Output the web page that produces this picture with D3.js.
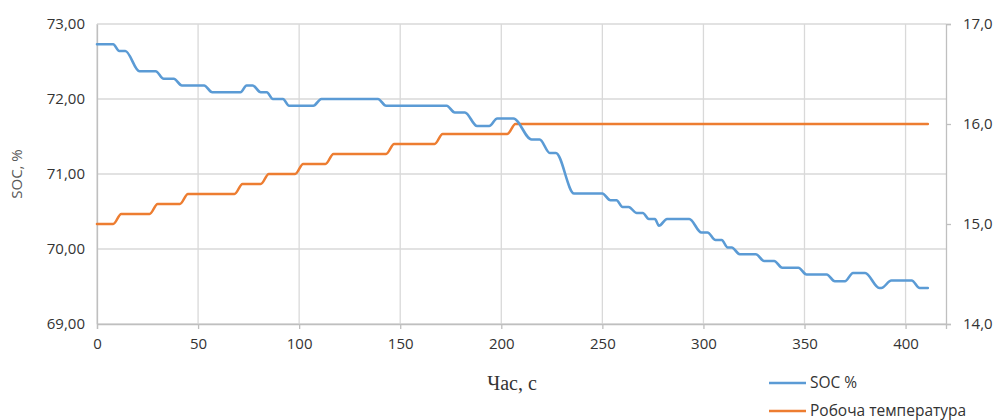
<!DOCTYPE html>
<html>
<head>
<meta charset="utf-8">
<script src="https://cdn.jsdelivr.net/npm/d3@7"></script>
<style>
  html, body { margin: 0; padding: 0; background: #fff; }
  svg { display: block; }
  text { font-family: "Open Sans", "Liberation Sans", sans-serif; }
</style>
</head>
<body>
<svg id="chart" width="1003" height="420"></svg>
<script>
// Time, s
const timeTicks = [0, 50, 100, 150, 200, 250, 300, 350, 400];
const socTicks = [69, 70, 71, 72, 73];
const tempTicks = [14, 15, 16, 17];

// SOC, % — corner points of the stepped discharge curve
const socTime = [0, 8, 11, 14, 21, 29, 33, 38, 42, 53, 57, 71, 74, 77, 81, 84, 87, 92, 95, 107,
  111, 139, 143, 173, 177, 182, 188, 194, 198, 206, 215, 219, 224, 227, 236, 250, 254, 257, 260, 263,
  267, 270, 273, 276, 278, 282, 293, 299, 302, 306, 309, 312, 314, 318, 326, 330, 335, 339, 347, 351,
  361, 365, 370, 374, 380, 387, 388, 393, 403, 407, 411];
const socValues = [72.73, 72.73, 72.64, 72.64, 72.37, 72.37, 72.27, 72.27, 72.18, 72.18, 72.09, 72.09, 72.18, 72.18, 72.09, 72.09, 72.00, 72.00, 71.91, 71.91,
  72.00, 72.00, 71.91, 71.91, 71.82, 71.82, 71.64, 71.64, 71.74, 71.74, 71.46, 71.46, 71.28, 71.28, 70.74, 70.74, 70.65, 70.65, 70.56, 70.56,
  70.48, 70.48, 70.40, 70.40, 70.31, 70.40, 70.40, 70.22, 70.22, 70.12, 70.12, 70.02, 70.02, 69.93, 69.93, 69.84, 69.84, 69.75, 69.75, 69.66,
  69.66, 69.57, 69.57, 69.68, 69.68, 69.48, 69.48, 69.58, 69.58, 69.48, 69.48];

// Working temperature — corner points of the stepped heating curve
const tempTime = [0, 8, 12, 26, 30, 41, 45, 68, 72, 81, 85, 98, 102, 113, 117, 143, 147, 167, 171, 203, 207, 411];
const tempValues = [15.0, 15.0, 15.1, 15.1, 15.2, 15.2, 15.3, 15.3, 15.4, 15.4, 15.5, 15.5, 15.6, 15.6, 15.7, 15.7, 15.8, 15.8, 15.9, 15.9, 16.0, 16.0];

const seriesNames = ["SOC %", "Робоча температура"];
const seriesColors = ["#5B9BD5", "#ED7D31"];

const svg = d3.select("#chart");
const plotLeft = 97, plotRight = 946, plotTop = 24, plotBottom = 324;

const x = d3.scaleLinear().domain([0, 420]).range([plotLeft, plotRight]);
const ySoc = d3.scaleLinear().domain([69, 73]).range([plotBottom, plotTop]);
const yTemp = d3.scaleLinear().domain([14, 17]).range([plotBottom, plotTop]);

const gridColor = "#d9d9d9";
const textColor = "#333333";

// gridlines
svg.append("g").selectAll("line").data(socTicks).join("line")
  .attr("x1", plotLeft).attr("x2", plotRight)
  .attr("y1", d => ySoc(d)).attr("y2", d => ySoc(d))
  .attr("stroke", gridColor).attr("stroke-width", 1.3);
svg.append("g").selectAll("line").data(timeTicks).join("line")
  .attr("x1", d => x(d)).attr("x2", d => x(d))
  .attr("y1", plotTop).attr("y2", plotBottom)
  .attr("stroke", gridColor).attr("stroke-width", 1.3);

// bottom axis
const xAxis = svg.append("g").attr("transform", `translate(0,${plotBottom})`)
  .call(d3.axisBottom(x).tickValues(timeTicks).tickSize(5).tickPadding(9).tickFormat(d3.format("d")));
xAxis.select(".domain").attr("stroke", "#bfbfbf").attr("stroke-width", 1.3);
xAxis.selectAll(".tick line").attr("stroke", "#bfbfbf").attr("stroke-width", 1.3);
xAxis.selectAll("text").attr("font-size", 15).attr("fill", textColor)
  .style("font-family", "'Open Sans', sans-serif");

// left axis
const fmtSoc = v => d3.format(".2f")(v).replace(".", ",");
const yAxisL = svg.append("g").attr("transform", `translate(${plotLeft},0)`)
  .call(d3.axisLeft(ySoc).tickValues(socTicks).tickSize(0).tickPadding(12).tickFormat(fmtSoc));
yAxisL.select(".domain").attr("stroke", "#bfbfbf").attr("stroke-width", 1.3);
yAxisL.selectAll("text").attr("font-size", 15).attr("fill", textColor)
  .style("font-family", "'Open Sans', sans-serif");

// right axis
const fmtTemp = v => d3.format(".1f")(v).replace(".", ",");
const yAxisR = svg.append("g").attr("transform", `translate(${plotRight},0)`)
  .call(d3.axisRight(yTemp).tickValues(tempTicks).tickSize(5).tickPadding(12).tickFormat(fmtTemp));
yAxisR.select(".domain").attr("stroke", "#bfbfbf").attr("stroke-width", 1.3);
yAxisR.selectAll(".tick line").attr("stroke", "#bfbfbf").attr("stroke-width", 1.3);
yAxisR.selectAll("text").attr("font-size", 15).attr("fill", textColor)
  .style("font-family", "'Open Sans', sans-serif");

// series lines
const socData = socTime.map((t, i) => [t, socValues[i]]);
const tempData = tempTime.map((t, i) => [t, tempValues[i]]);

const socLine = d3.line().x(d => x(d[0])).y(d => ySoc(d[1])).curve(d3.curveMonotoneX);
const tempLine = d3.line().x(d => x(d[0])).y(d => yTemp(d[1])).curve(d3.curveMonotoneX);

svg.append("path").datum(tempData).attr("d", tempLine)
  .attr("fill", "none").attr("stroke", seriesColors[1]).attr("stroke-width", 2.6)
  .attr("stroke-linejoin", "round").attr("stroke-linecap", "round");
svg.append("path").datum(socData).attr("d", socLine)
  .attr("fill", "none").attr("stroke", seriesColors[0]).attr("stroke-width", 2.6)
  .attr("stroke-linejoin", "round").attr("stroke-linecap", "round");

// axis titles
svg.append("text")
  .attr("transform", `translate(22,${(plotTop + plotBottom) / 2}) rotate(-90)`)
  .attr("text-anchor", "middle").attr("font-size", 15).attr("fill", "#595959")
  .text("SOC, %");
svg.append("text")
  .attr("x", 512).attr("y", 390)
  .attr("text-anchor", "middle").attr("font-size", 20).attr("fill", "#333")
  .style("font-family", "'Liberation Serif', 'Times New Roman', serif")
  .text("Час, с");

// legend
const legend = svg.append("g").selectAll("g").data(seriesNames).join("g")
  .attr("transform", (d, i) => `translate(769,${383 + i * 28})`);
legend.append("line").attr("x1", 0).attr("x2", 37).attr("y1", 0).attr("y2", 0)
  .attr("stroke", (d, i) => seriesColors[i]).attr("stroke-width", 2.6);
legend.append("text").attr("x", 41).attr("y", 0).attr("dy", "0.35em")
  .attr("font-size", 15.5).attr("fill", textColor).text(d => d);
</script>
</body>
</html>
